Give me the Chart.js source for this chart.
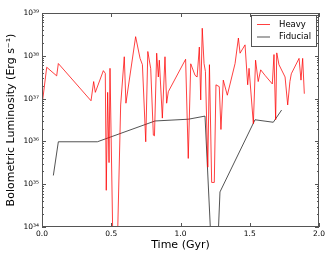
<!DOCTYPE html>
<html>
<head>
<meta charset="utf-8">
<script src="https://cdn.jsdelivr.net/npm/chart.js@4"></script>
<style>
  html, body { margin: 0; padding: 0; background: #fff; }
  canvas { display: block; }
</style>
</head>
<body>
<canvas id="lumChart" width="332" height="256"></canvas>
<script>
// Heavy run
const heavyTime = [0.005, 0.034, 0.106, 0.118, 0.354, 0.373, 0.385, 0.443, 0.457, 0.464, 0.474, 0.484, 0.491, 0.515, 0.540,
    0.568, 0.594, 0.606, 0.676, 0.708, 0.725, 0.749, 0.764, 0.785, 0.804, 0.812, 0.828, 0.840, 0.847, 0.869,
    0.888, 0.900, 0.912, 1.037, 1.056, 1.074, 1.105, 1.120, 1.136, 1.146, 1.157, 1.170, 1.180, 1.197, 1.209,
    1.225, 1.244, 1.256, 1.280, 1.292, 1.309, 1.338, 1.394, 1.418, 1.430, 1.466, 1.485, 1.495, 1.526, 1.542,
    1.561, 1.579, 1.610, 1.663, 1.675, 1.687, 1.695, 1.711, 1.755, 1.774, 1.790, 1.800, 1.856, 1.870, 1.882, 1.894];
const heavyLum = [9.3e36, 5.4e37, 3.4e37, 6.6e37, 8.9e36, 2.5e37, 1.4e37, 4.5e37, 3.9e37, 7.2e34, 1.4e37, 3.2e35, 5.1e37, 1e33, 1e33,
    7.1e36, 9.5e37, 7.8e36, 2.8e38, 8.7e37, 6.2e37, 9.8e35, 1.26e38, 5.0e37, 1.4e36, 1.35e36, 1.15e38, 3.2e37, 7.9e37, 3.5e36,
    9.5e37, 7.8e36, 1.45e37, 8.3e37, 4.0e35, 6.5e37, 3.5e37, 3.2e37, 1.6e38, 9.3e36, 4.4e38, 6.6e37, 4.3e37, 2.5e35, 6.2e37,
    1.1e35, 1.1e35, 2.1e37, 1.9e37, 1.9e36, 2.7e37, 1.2e37, 6.6e37, 2.6e38, 1.15e38, 1.8e38, 2.1e37, 5.1e37, 2.6e36, 7.9e37,
    2.5e37, 4.7e37, 3.5e37, 2.2e37, 1.07e38, 3.2e36, 1.17e38, 6.2e37, 3.2e37, 7.1e36, 2.5e37, 3.8e37, 8.7e37, 2.7e37, 8.7e37, 1.3e37];

// Fiducial run
const fidTime = [0.082, 0.118, 0.400, 0.816, 1.057, 1.177, 1.230, 1.262, 1.285, 1.538, 1.670, 1.730];
const fidLum = [1.6e35, 9.8e35, 9.8e35, 3.0e36, 3.3e36, 3.9e36, 1e33, 1e33, 6.6e34, 3.2e36, 2.8e36, 5.4e36];

const xTicks = [0, 0.5, 1.0, 1.5, 2.0];
const yTicks = [1e34, 1e35, 1e36, 1e37, 1e38, 1e39];

const font = "'DejaVu Sans', sans-serif";
const sup = { '0': '⁰', '1': '¹', '2': '²', '3': '³', '4': '⁴', '5': '⁵', '6': '⁶', '7': '⁷', '8': '⁸', '9': '⁹' };

function punten(xs, ys) {
    return xs.map((x, i) => ({ x: x, y: ys[i] }));
}

// frame, inward ticks and the legend box
const bingkai = {
    id: 'bingkai',
    afterDatasetsDraw(chart) {
        const c = chart.ctx;
        const a = chart.chartArea;
        const sx = chart.scales.x, sy = chart.scales.y;
        c.save();
        c.strokeStyle = '#555';
        c.lineWidth = 1;
        c.strokeRect(a.left + 0.5, a.top + 0.5, a.right - a.left - 1, a.bottom - a.top - 1);
        c.beginPath();
        xTicks.forEach(v => {
            const px = Math.round(sx.getPixelForValue(v)) + 0.5;
            c.moveTo(px, a.bottom); c.lineTo(px, a.bottom - 4);
            c.moveTo(px, a.top); c.lineTo(px, a.top + 4);
        });
        yTicks.forEach((v, i) => {
            const py = Math.round(sy.getPixelForValue(v)) + 0.5;
            c.moveTo(a.left, py); c.lineTo(a.left + 4, py);
            c.moveTo(a.right, py); c.lineTo(a.right - 4, py);
            if (i < yTicks.length - 1) {
                for (let m = 2; m <= 9; m++) {
                    const pm = Math.round(sy.getPixelForValue(v * m)) + 0.5;
                    c.moveTo(a.left, pm); c.lineTo(a.left + 2, pm);
                    c.moveTo(a.right, pm); c.lineTo(a.right - 2, pm);
                }
            }
        });
        c.stroke();

        // legend
        const lx = 251, ly = 15, lw = 65, lh = 31;
        c.fillStyle = '#fff';
        c.fillRect(lx, ly, lw, lh);
        c.strokeStyle = '#555';
        c.strokeRect(lx + 0.5, ly + 0.5, lw, lh);
        c.font = '8.5px ' + font;
        c.textBaseline = 'middle';
        chart.data.datasets.forEach((ds, i) => {
            const yy = ly + 9.5 + i * 12.5;
            c.strokeStyle = ds.borderColor;
            c.beginPath();
            c.moveTo(lx + 6, yy); c.lineTo(lx + 19, yy);
            c.stroke();
            c.fillStyle = '#000';
            c.fillText(ds.label, lx + 28, yy);
        });
        c.restore();
    }
};

const ctx = document.getElementById('lumChart').getContext('2d');
const lumChart = new Chart(ctx, {
    type: 'line',
    data: {
        datasets: [
            { label: 'Heavy', data: punten(heavyTime, heavyLum), borderColor: 'rgba(255, 0, 0, 0.75)', borderWidth: 1, pointRadius: 0, tension: 0 },
            { label: 'Fiducial', data: punten(fidTime, fidLum), borderColor: 'rgba(40, 40, 40, 0.8)', borderWidth: 1, pointRadius: 0, tension: 0 }
        ]
    },
    options: {
        responsive: false,
        animation: false,
        layout: { padding: { top: 13, right: 13, left: 0, bottom: 0 } },
        plugins: { legend: { display: false }, tooltip: { enabled: false } },
        scales: {
            x: {
                type: 'linear', min: 0, max: 2,
                afterFit: s => { s.height = 29; },
                afterBuildTicks: s => { s.ticks = xTicks.map(v => ({ value: v })); },
                grid: { display: false, drawTicks: false },
                border: { display: false },
                ticks: { padding: 3, color: '#000', font: { family: font, size: 7.5 }, callback: v => v.toFixed(1), maxRotation: 0 },
                title: { display: true, text: 'Time (Gyr)', color: '#000', font: { family: font, size: 11 }, padding: { top: 2, bottom: 4 } }
            },
            y: {
                type: 'logarithmic', min: 1e34, max: 1e39,
                afterFit: s => { s.width = 42; },
                afterBuildTicks: s => { s.ticks = yTicks.map(v => ({ value: v })); },
                grid: { display: false, drawTicks: false },
                border: { display: false },
                ticks: {
                    padding: 3, color: '#000', font: { family: font, size: 7.5 },
                    callback: v => '10' + String(Math.round(Math.log10(v))).split('').map(d => sup[d]).join('')
                },
                title: { display: true, text: 'Bolometric Luminosity (Erg s⁻¹)', color: '#000', font: { family: font, size: 11 }, padding: { top: 5, bottom: 2 } }
            }
        }
    },
    plugins: [bingkai]
});
</script>
</body>
</html>
